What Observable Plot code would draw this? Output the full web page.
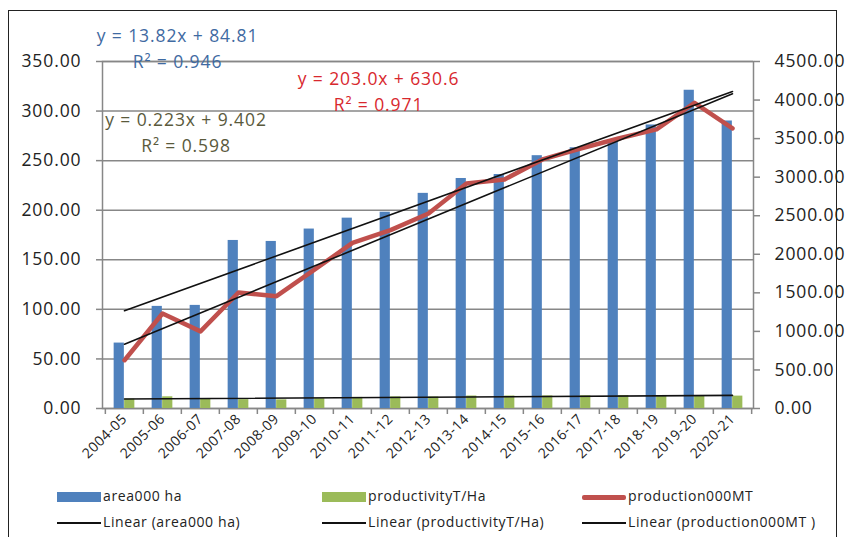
<!DOCTYPE html>
<html>
<head>
<meta charset="utf-8">
<script src="https://cdn.jsdelivr.net/npm/d3@7"></script>
<script src="https://cdn.jsdelivr.net/npm/@observablehq/plot@0.6"></script>
<style>
  body { margin: 0; background: #fff; font-family: "Open Sans", sans-serif; }
  #wrap { position: relative; width: 846px; height: 537px; overflow: hidden; background: #fff; }
  #border { position: absolute; left: 8px; top: 10px; width: 829px; height: 600px; border: 1px solid #222; box-sizing: border-box; }
  #chart { position: absolute; left: 0; top: 0; }
  #chart svg text { letter-spacing: 0.9px; }
  #chart g[aria-label="x-axis tick label"] text { letter-spacing: 0.5px; }
  .lg { position: absolute; font-size: 14px; letter-spacing: 0.6px; color: #222; white-space: nowrap; line-height: 1; }
  .sw { position: absolute; }
</style>
</head>
<body>
<div id="wrap">
  <div id="border"></div>
  <div id="chart"></div>
  <div id="legend"></div>
</div>
<script>
// Seasons on the category axis
const years = ["2004-05","2005-06","2006-07","2007-08","2008-09","2009-10","2010-11","2011-12","2012-13",
  "2013-14","2014-15","2015-16","2016-17","2017-18","2018-19","2019-20","2020-21"];

// Area ('000 ha), left axis
const area = [66, 103, 104, 169.5, 168.5, 181, 192, 198, 217, 232, 236, 255, 263, 269, 286, 321, 290];

// Productivity (T/ha), left axis
const productivity = [9.5, 11.8, 9.6, 8.9, 8.7, 9.9, 11.2, 11.7, 11.6, 12.6, 12.6, 12.7, 12.8, 13.0, 12.7, 12.3, 12.5];

// Production ('000 MT), right axis
const production = [626, 1232, 1000, 1505, 1457, 1800, 2148, 2313, 2529, 2918, 2970, 3230, 3372, 3502, 3619, 3964, 3632];

// Linear trend fits: area, productivity, production
const trendSlope = [13.82, 0.223, 203.0];
const trendIntercept = [84.81, 9.402, 630.6];
const trendR2 = [0.946, 0.598, 0.971];
const trendDigits = [2, 3, 1];

// Axis ticks
const leftTicks = [0, 50, 100, 150, 200, 250, 300, 350];
const rightTicks = [0, 500, 1000, 1500, 2000, 2500, 3000, 3500, 4000, 4500];

const legendLabels = ["area000 ha", "productivityT/Ha", "production000MT",
  "Linear (area000 ha)", "Linear (productivityT/Ha)", "Linear (production000MT )"];

// The right axis (0–4500) is mapped onto the left scale (0–350)
const leftMax = 350, rightMax = 4500;
const k = leftMax / rightMax;

const blue = "#4F81BD", green = "#9BBB59", red = "#C0504D", grid = "#878787";

const rows = years.map((year, i) => ({year, area: area[i], productivity: productivity[i], production: production[i]}));

const W = 846, H = 475, mL = 102, mR = 93, mT = 61, mB = 67;
const bw = (W - mL - mR) / years.length;
const barW = 10.5;

// Trend line end points at the first and last season (x = 1 … n)
const n = years.length;
const trendLine = (j, scale) => [
  {year: years[0], v: (trendIntercept[j] + trendSlope[j] * 1) * scale},
  {year: years[n - 1], v: (trendIntercept[j] + trendSlope[j] * n) * scale}
];
const eq = (j) => `y = ${trendSlope[j].toFixed(trendDigits[j])}x + ${trendIntercept[j].toFixed(trendDigits[j])}`;
const r2 = (j) => `R² = ${trendR2[j].toFixed(3)}`;

const eqColors = ["#3F6AA2", "#5A5A3C", "#D8282E"];
const eqPos = [[75, -25], [83.5, 59], [276, 18]];

const plot = Plot.plot({
  width: W, height: H,
  marginLeft: mL, marginRight: mR, marginTop: mT, marginBottom: mB,
  style: {fontFamily: "Open Sans, sans-serif", fontSize: "17.5px", color: "#222", background: "transparent"},
  x: {type: "band", domain: years, padding: 0, label: null},
  y: {domain: [0, leftMax], label: null},
  marks: [
    Plot.gridY(leftTicks, {stroke: grid, strokeOpacity: 1, strokeWidth: 1.5}),
    Plot.frame({stroke: grid, strokeWidth: 1.5}),
    // category boundary ticks below the axis
    Plot.ruleX(years, {x: d => d, y1: 0, y2: 0, insetBottom: -6, dx: -bw / 2, stroke: grid, strokeWidth: 1.5}),
    Plot.ruleX([years[n - 1]], {x: d => d, y1: 0, y2: 0, insetBottom: -6, dx: bw / 2, stroke: grid, strokeWidth: 1.5}),
    Plot.axisY(leftTicks, {anchor: "left", tickFormat: d => d.toFixed(2), tickSize: 6, tickPadding: 15, stroke: grid, strokeWidth: 1.5, fill: "#222", fontSize: 17.5, textAnchor: "end", label: null}),
    Plot.axisY(rightTicks.map(v => v * k), {anchor: "right", tickFormat: d => (d / k).toFixed(2), tickSize: 6, tickPadding: 15, stroke: grid, strokeWidth: 1.5, fill: "#222", fontSize: 17.5, textAnchor: "start", label: null}),
    Plot.axisX({tickRotate: -45, tickSize: 0, tickPadding: 8, fontSize: 14, fill: "#222", label: null}),
    Plot.barY(rows, {x: "year", y: "area", fill: blue, insetLeft: bw / 2 - barW, insetRight: bw / 2}),
    Plot.barY(rows, {x: "year", y: "productivity", fill: green, insetLeft: bw / 2, insetRight: bw / 2 - barW}),
    Plot.line(rows, {x: "year", y: d => d.production * k, stroke: red, strokeWidth: 4.5, strokeLinejoin: "round", strokeLinecap: "round"}),
    Plot.line(trendLine(0, 1), {x: "year", y: "v", stroke: "#111", strokeWidth: 1.6}),
    Plot.line(trendLine(1, 1), {x: "year", y: "v", stroke: "#111", strokeWidth: 1.6}),
    Plot.line(trendLine(2, k), {x: "year", y: "v", stroke: "#111", strokeWidth: 1.6}),
    ...[0, 1, 2].flatMap(j => [
      Plot.text([eq(j)], {text: d => d, frameAnchor: "top-left", dx: eqPos[j][0], dy: eqPos[j][1], fill: eqColors[j], fontSize: 17.5, textAnchor: "middle", lineAnchor: "middle"}),
      Plot.text([r2(j)], {text: d => d, frameAnchor: "top-left", dx: eqPos[j][0], dy: eqPos[j][1] + 26, fill: eqColors[j], fontSize: 17.5, textAnchor: "middle", lineAnchor: "middle"})
    ])
  ]
});
document.getElementById("chart").appendChild(plot);

// Legend below the plot: two rows of three entries
const legend = document.getElementById("legend");
const colX = [57, 322, 582];
const rowY = [497, 523];
const swatches = [
  {color: blue, h: 10}, {color: green, h: 10}, {color: red, h: 5},
  {color: "#111", h: 2}, {color: "#111", h: 2}, {color: "#111", h: 2}
];
legendLabels.forEach((label, i) => {
  const x = colX[i % 3], y = rowY[Math.floor(i / 3)];
  const s = document.createElement("div");
  s.className = "sw";
  s.style.left = x + "px";
  s.style.top = (y - swatches[i].h / 2) + "px";
  s.style.width = "44px";
  s.style.height = swatches[i].h + "px";
  s.style.background = swatches[i].color;
  if (i === 2) s.style.borderRadius = "2px";
  legend.appendChild(s);
  const t = document.createElement("div");
  t.className = "lg";
  t.textContent = label;
  t.style.left = (x + 46) + "px";
  t.style.top = (y - 8) + "px";
  legend.appendChild(t);
});
</script>
</body>
</html>
